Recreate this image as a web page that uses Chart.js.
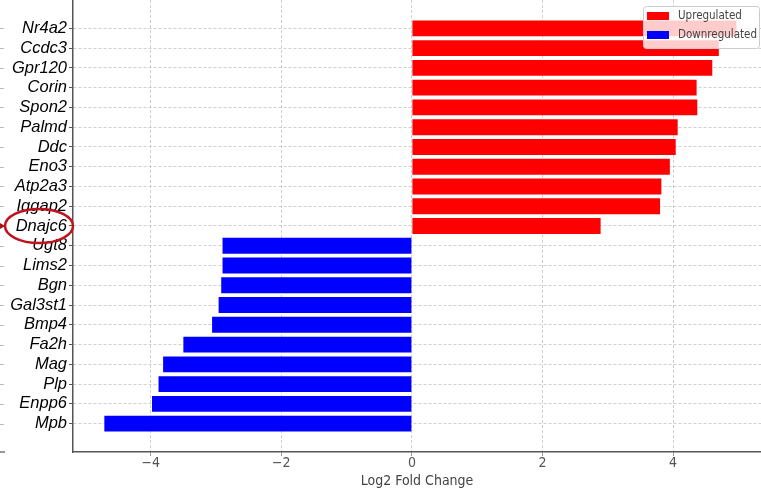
<!DOCTYPE html>
<html>
<head>
<meta charset="utf-8">
<script src="https://cdn.jsdelivr.net/npm/chart.js@4/dist/chart.umd.min.js"></script>
<style>
  html, body { margin: 0; padding: 0; background: #ffffff; }
  canvas { display: block; }
</style>
</head>
<body>
<canvas id="c" width="761" height="495"></canvas>
<script>
// ---- data ----
const genes = ["Nr4a2","Ccdc3","Gpr120","Corin","Spon2","Palmd","Ddc","Eno3","Atp2a3","Iqgap2","Dnajc6",
               "Ugt8","Lims2","Bgn","Gal3st1","Bmp4","Fa2h","Mag","Plp","Enpp6","Mpb"];
const log2FC = [4.97, 4.70, 4.60, 4.36, 4.37, 4.07, 4.04, 3.95, 3.82, 3.80, 2.89,
                -2.90, -2.90, -2.92, -2.96, -3.06, -3.50, -3.81, -3.88, -3.98, -4.71];
const xTicks = [-4, -2, 0, 2, 4];
const seriesNames = ["Upregulated", "Downregulated"];
const highlightGene = "Dnajc6";

const upData = [], downData = [];
genes.forEach((g, i) => {
  const v = log2FC[i];
  if (v >= 0) upData.push({ x: v, y: i }); else downData.push({ x: v, y: i });
});

const legendBox = {
  id: 'legendBox',
  afterDraw(chart) {
    const ctx = chart.ctx, area = chart.chartArea;
    ctx.save();
    ctx.font = '11.5px "DejaVu Sans Condensed", "DejaVu Sans", sans-serif';
    const ds = chart.data.datasets;
    let tw = 0;
    ds.forEach(d => { tw = Math.max(tw, ctx.measureText(d.label).width); });
    const padL = 4, patchW = 22, gap = 9, padR = 2;
    const w = padL + patchW + gap + tw + padR, h = 42;
    const x0 = area.right - 2 - w, y0 = area.top + 6;
    ctx.beginPath();
    if (ctx.roundRect) ctx.roundRect(x0 + 0.5, y0 + 0.5, w, h, 3); else ctx.rect(x0 + 0.5, y0 + 0.5, w, h);
    ctx.fillStyle = 'rgba(255,255,255,0.8)';
    ctx.fill();
    ctx.strokeStyle = '#cccccc';
    ctx.lineWidth = 1;
    ctx.stroke();
    ds.forEach((d, k) => {
      const cy = y0 + 10 + k * 19;
      ctx.fillStyle = d.backgroundColor;
      ctx.fillRect(x0 + padL, cy - 4, patchW, 8);
      ctx.fillStyle = '#444444';
      ctx.textBaseline = 'middle';
      ctx.textAlign = 'left';
      ctx.fillText(d.label, x0 + padL + patchW + gap, cy);
    });
    ctx.restore();
  }
};

const annot = {
  id: 'annot',
  afterDraw(chart) {
    const ctx = chart.ctx, ys = chart.scales.y;
    ctx.save();
    // faint marks at the far left edge
    ctx.strokeStyle = '#bbbbbb';
    ctx.lineWidth = 1;
    ys.ticks.forEach(t => {
      const py = Math.round(ys.getPixelForValue(t.value)) + 0.5;
      ctx.beginPath(); ctx.moveTo(0, py); ctx.lineTo(4, py); ctx.stroke();
    });
    ctx.strokeStyle = '#777777';
    ctx.lineWidth = 1.5;
    const by = chart.chartArea.bottom;
    ctx.beginPath(); ctx.moveTo(0, by); ctx.lineTo(5, by); ctx.stroke();
    // red ellipse round the highlighted gene label
    const idx = genes.indexOf(highlightGene);
    const cy = ys.getPixelForValue(idx);
    ctx.strokeStyle = '#c0141c';
    ctx.lineWidth = 2.5;
    ctx.beginPath();
    ctx.ellipse(39, cy, 34, 17, 0, 0, Math.PI * 2);
    ctx.stroke();
    ctx.fillStyle = '#b01010';
    ctx.beginPath();
    ctx.moveTo(0, cy - 3); ctx.lineTo(5, cy); ctx.lineTo(0, cy + 3); ctx.closePath();
    ctx.fill();
    ctx.restore();
  }
};

const gridColor = 'rgba(176,176,176,0.6)';

new Chart(document.getElementById('c'), {
  type: 'bar',
  data: {
    datasets: [
      { label: seriesNames[0], data: upData, backgroundColor: '#ff0000', borderWidth: 0 },
      { label: seriesNames[1], data: downData, backgroundColor: '#0000ff', borderWidth: 0 }
    ]
  },
  options: {
    responsive: false,
    animation: false,
    indexAxis: 'y',
    grouped: false,
    categoryPercentage: 1.0,
    barPercentage: 0.8,
    layout: { padding: 0 },
    plugins: { legend: { display: false }, tooltip: { enabled: false } },
    scales: {
      x: {
        type: 'linear',
        position: 'bottom',
        bounds: 'data',
        offset: false,
        min: -5.19,
        max: 5.346,
        z: 1,
        afterBuildTicks: s => { s.ticks = xTicks.map(v => ({ value: v })); },
        afterFit: s => { s.height = 43; s.paddingLeft = 0; s.paddingRight = 0; },
        grid: {
          color: gridColor, lineWidth: 1, offset: false,
          drawTicks: true, tickLength: 4, tickColor: '#999999', tickBorderDash: [], tickWidth: 1
        },
        border: { display: true, color: '#555555', width: 1.5, dash: [3, 2] },
        ticks: {
          color: '#555555', padding: 0,
          font: { family: '"DejaVu Sans Condensed", "DejaVu Sans", sans-serif', size: 14, lineHeight: 1.0 },
          callback: v => (v < 0 ? '\u2212' + Math.abs(v) : String(v))
        },
        title: {
          display: true, text: 'Log2 Fold Change', color: '#444444',
          padding: { top: 0, bottom: 5 },
          font: { family: '"DejaVu Sans Condensed", "DejaVu Sans", sans-serif', size: 14 }
        }
      },
      y: {
        type: 'linear',
        position: 'left',
        reverse: true,
        bounds: 'data',
        offset: false,
        min: -1.44,
        max: genes.length - 1 + 1.44,
        z: 1,
        afterBuildTicks: s => { s.ticks = genes.map((g, i) => ({ value: i })); },
        afterFit: s => { s.width = 73; s.paddingTop = 0; s.paddingBottom = 0; },
        grid: {
          color: gridColor, lineWidth: 1, offset: false,
          drawTicks: true, tickLength: 4, tickColor: '#555555', tickBorderDash: [], tickWidth: 1
        },
        border: { display: true, color: '#555555', width: 1.5, dash: [3, 2] },
        ticks: {
          color: '#000000', padding: 2, autoSkip: false,
          font: { family: '"Liberation Sans", Arial, sans-serif', style: 'italic', size: 16.5 },
          callback: v => genes[v] !== undefined ? genes[v] : ''
        }
      }
    }
  },
  plugins: [legendBox, annot]
});
</script>
</body>
</html>
